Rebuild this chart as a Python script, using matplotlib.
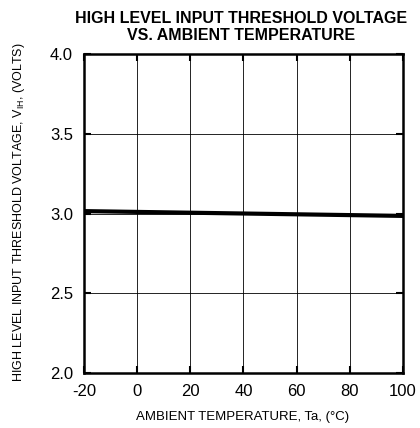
import matplotlib
matplotlib.use("Agg")
import matplotlib.pyplot as plt

plt.rcParams['font.family'] = ['Liberation Sans', 'DejaVu Sans']

temps = [-20, 0, 20, 40, 60, 80, 100]
vih = [3.015, 3.01, 3.005, 3.0, 2.995, 2.99, 2.985]

xticks = [-20, 0, 20, 40, 60, 80, 100]
yticks = [2.0, 2.5, 3.0, 3.5, 4.0]

fig = plt.figure(figsize=(4.2, 4.28), dpi=100)
ax = fig.add_axes([0.2, 0.1285, 0.7595, 0.7453])

ax.plot(temps, vih, color='black', linewidth=3.0, solid_capstyle='butt', zorder=3)

ax.set_xlim(-20, 100)
ax.set_ylim(2.0, 4.0)
ax.set_xticks(xticks)
ax.set_yticks(yticks)
ax.set_xticklabels([str(t) for t in xticks])
ax.set_yticklabels(["%.1f" % v for v in yticks])
ax.grid(True, color='black', linewidth=0.6)
ax.tick_params(direction='in', length=5, width=1.5, labelsize=12, top=True, right=True)
ax.tick_params(axis='x', pad=8)
ax.tick_params(axis='y', pad=8)
for s in ax.spines.values():
    s.set_linewidth(1.8)

fig.text(243 / 420, 1 - 417 / 428, "AMBIENT TEMPERATURE, Ta, (°C)", fontsize=9.5,
         ha='center', va='center')
fig.text(19 / 420, 1 - 212.5 / 428,
         "HIGH LEVEL INPUT THRESHOLD VOLTAGE, V$_{\\mathregular{IH}}$, (VOLTS)",
         fontsize=9, rotation=90, ha='center', va='center')
fig.text(241 / 420, 1 - 27 / 428, "HIGH LEVEL INPUT THRESHOLD VOLTAGE\nVS. AMBIENT TEMPERATURE",
         fontsize=11.5, fontweight='bold', ha='center', va='center', linespacing=1.15)

fig.savefig("out.png", dpi=100)
